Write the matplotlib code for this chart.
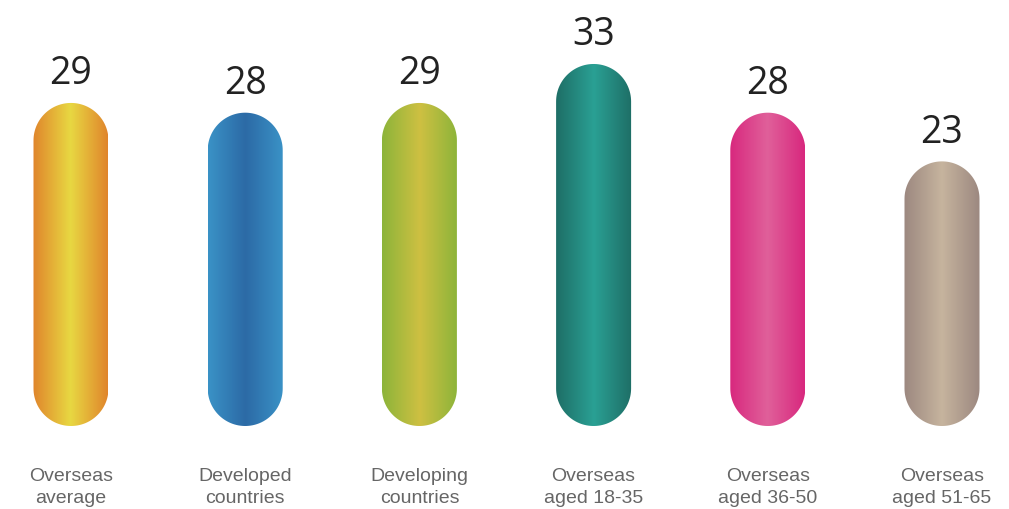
import matplotlib.pyplot as plt
import numpy as np
from matplotlib.patches import Polygon
from matplotlib.colors import to_rgb

categories = ['Overseas\naverage', 'Developed\ncountries', 'Developing\ncountries',
              'Overseas\naged 18-35', 'Overseas\naged 36-50', 'Overseas\naged 51-65']
values = [29, 28, 29, 33, 28, 23]
edge_colors = ['#E0852C', '#3A92C6', '#8CB43A', '#1E6E66', '#D8287E', '#9C8880']
mid_colors = ['#E8D842', '#2C6AA6', '#CEC042', '#2AA094', '#E0609A', '#C6B49E']

W, H = 1009, 510
fig = plt.figure(figsize=(W / 100, H / 100), dpi=100)
ax = fig.add_axes([0, 0, 1, 1])

# pixel scales: one category step = 174.2 px, one value unit = 9.74 px
step_px = 174.2
unit_px = 9.74
x0_px = 71
zero_px = 123.6  # baseline from bottom of figure
ax.set_xlim(-x0_px / step_px, (W - x0_px) / step_px)
ax.set_ylim(-zero_px / unit_px, (H - zero_px) / unit_px)
ax.axis('off')

bar_w = 75 / step_px
rx = bar_w / 2
ry = 37.5 / unit_px
bottom = -40.6 / unit_px


def capsule(xc, y0, y1):
    t = np.linspace(0, np.pi, 60)
    top = np.column_stack([xc + rx * np.cos(t), y1 - ry + ry * np.sin(t)])
    bot = np.column_stack([xc - rx * np.cos(t), y0 + ry - ry * np.sin(t)])
    return np.vstack([top, bot])


for i, (v, ec, mc) in enumerate(zip(values, edge_colors, mid_colors)):
    poly = Polygon(capsule(i, bottom, v), closed=True, facecolor='none', edgecolor='none')
    ax.add_patch(poly)
    s = np.abs(np.linspace(-1, 1, 200))
    c0 = np.array(to_rgb(mc))
    c1 = np.array(to_rgb(ec))
    grad = c0[None, :] * (1 - s[:, None]) + c1[None, :] * s[:, None]
    img = ax.imshow(grad[None, :, :], extent=[i - rx, i + rx, bottom, v],
                    aspect='auto', interpolation='bilinear', zorder=2)
    img.set_clip_path(poly)
    ax.text(i, v + 2.0, str(v), ha='center', va='baseline', fontsize=27,
            family='Open Sans', weight='medium', color='#222222')
    ax.text(i, -10.4, categories[i], ha='center', va='center', fontsize=14,
            family=['Liberation Sans Narrow', 'Liberation Sans'], color='#666666',
            linespacing=1.35)

fig.savefig('out.png', dpi=100, facecolor='white')
